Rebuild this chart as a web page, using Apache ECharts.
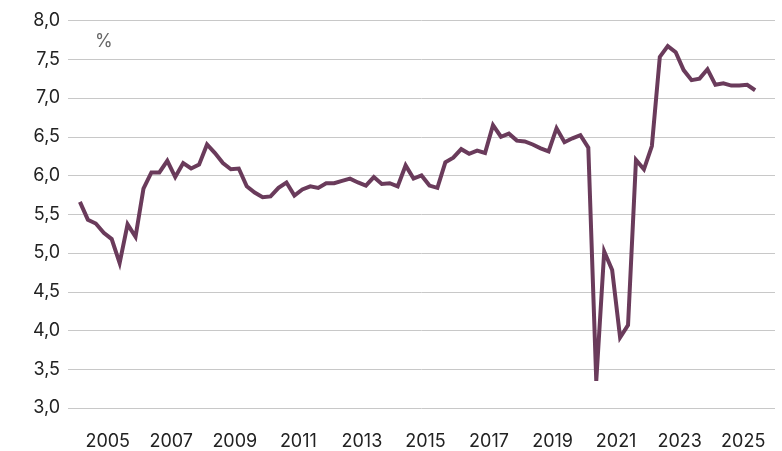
<!DOCTYPE html>
<html>
<head>
<meta charset="utf-8">
<script src="https://cdn.jsdelivr.net/npm/echarts@6/dist/echarts.min.js"></script>
<style>
html,body{margin:0;padding:0;background:#fff;}
#chart{width:782px;height:451px;}
</style>
</head>
<body>
<div id="chart"></div>
<script>
// Quarterly series, 2004 Q1 – 2025 Q2
const quarters = [];
for (let y = 2004; y <= 2025; y++) for (let q = 1; q <= 4; q++) quarters.push(y + 'K' + q);
const values = [
  5.66, 5.43, 5.38, 5.26, 5.18, 4.87, 5.37, 5.21,
  5.83, 6.04, 6.04, 6.19, 5.98, 6.16, 6.09, 6.14,
  6.40, 6.29, 6.16, 6.08, 6.09, 5.86, 5.78, 5.72,
  5.73, 5.84, 5.91, 5.74, 5.82, 5.86, 5.84, 5.90,
  5.90, 5.93, 5.96, 5.91, 5.87, 5.98, 5.89, 5.90,
  5.86, 6.13, 5.96, 6.00, 5.87, 5.84, 6.17, 6.23,
  6.34, 6.28, 6.32, 6.29, 6.65, 6.50, 6.54, 6.45,
  6.44, 6.40, 6.35, 6.31, 6.61, 6.43, 6.48, 6.52,
  6.36, 3.35, 5.02, 4.78, 3.91, 4.07, 6.20, 6.08,
  6.38, 7.53, 7.67, 7.59, 7.36, 7.23, 7.25, 7.37,
  7.17, 7.19, 7.16, 7.16, 7.17, 7.10
];
const xTickLabels = [2005, 2007, 2009, 2011, 2013, 2015, 2017, 2019, 2021, 2023, 2025];
const yTicks = [3.0, 3.5, 4.0, 4.5, 5.0, 5.5, 6.0, 6.5, 7.0, 7.5, 8.0];

const seriesData = values.map((v, i) => {
  const qs = quarters[i];
  const yr = parseInt(qs.slice(0, 4), 10);
  const q = parseInt(qs.slice(5), 10);
  return [yr + (q - 0.5) / 4, v];
});

const FONT = 'Inter';
const chart = echarts.init(document.getElementById('chart'), null, {renderer: 'canvas'});
chart.setOption({
  animation: false,
  backgroundColor: '#ffffff',
  grid: {left: 68, right: 7, top: 20.5, bottom: 40.5, containLabel: false},
  xAxis: {
    type: 'value',
    min: 2003.75,
    max: 2026,
    axisLine: {show: false},
    axisTick: {show: false},
    splitLine: {show: false},
    axisLabel: {
      customValues: xTickLabels,
      formatter: v => String(Math.round(v)),
      color: '#222',
      fontFamily: FONT,
      fontSize: 18,
      margin: 25
    }
  },
  yAxis: {
    type: 'value',
    min: yTicks[0],
    max: yTicks[yTicks.length - 1],
    interval: 0.5,
    axisLine: {show: false},
    axisTick: {show: false},
    splitLine: {show: true, lineStyle: {color: '#c8c8c8', width: 1}},
    axisLabel: {
      formatter: v => v.toFixed(1).replace('.', ','),
      color: '#222',
      fontFamily: FONT,
      fontSize: 18,
      margin: 8
    }
  },
  graphic: [{
    type: 'text',
    left: 95,
    top: 33,
    style: {text: '%', fontSize: 18, fontFamily: FONT, fill: '#666'}
  }],
  series: [{
    type: 'line',
    data: seriesData,
    showSymbol: false,
    symbol: 'none',
    lineStyle: {color: '#6a3b5b', width: 4, join: 'miter'},
    itemStyle: {color: '#6a3b5b'}
  }]
});
</script>
</body>
</html>
